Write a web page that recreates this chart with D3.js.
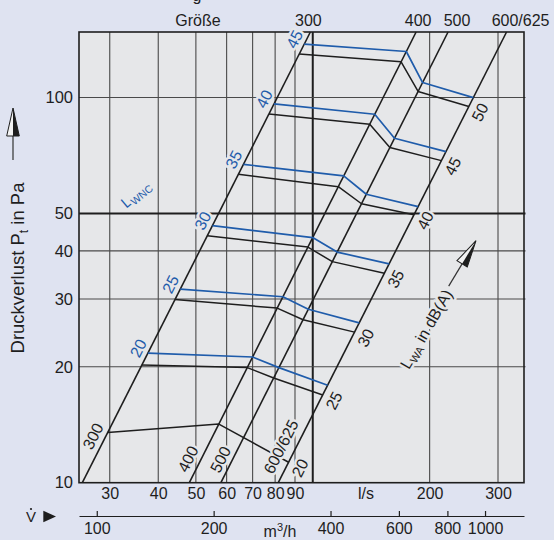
<!DOCTYPE html>
<html>
<head>
<meta charset="utf-8">
<script src="https://cdnjs.cloudflare.com/ajax/libs/d3/7.8.5/d3.min.js"></script>
<style>
  body { margin: 0; background: #dfe3f1; }
  svg { display: block; font-family: "Liberation Sans", Arial, Helvetica, sans-serif; }
</style>
</head>
<body>
<svg id="chart" width="554" height="540"></svg>
<script>
// size lines (Größe): flow in l/s where each line meets 10 Pa and the top edge (148 Pa)
var sizes = ["300", "400", "500", "600/625"];
var sizeFlowLow = [25.5, 48.1, 58.0, 81.5];
var sizeFlowHigh = [98.6, 184.6, 223.1, 315.6];
var pLow = 10, pHigh = 148;

// black lines, L_WA in dB(A): pressure in Pa where the line crosses size 300 / 400 / 500 / 600
var lwaLevels = [20, 25, 30, 35, 40, 45, 50];
var lwaPressure = [
  [13.5, 14.2, null, 11.3],
  [20.2, 19.9, 18.7, 16.9],
  [29.9, 28.4, 26.5, 24.6],
  [43.8, 40.9, 37.5, 35.0],
  [63.2, 58.7, 53.0, 49.6],
  [90.7, 85.3, 74.2, 68.6],
  [129.7, 123.8, 103.7, 94.8]
];

// blue lines, L_WNC
var lwncLevels = [20, 25, 30, 35, 40, 45];
var lwncPressure = [
  [21.7, 21.2, 19.9, 17.9],
  [31.8, 30.4, 28.2, 26.0],
  [46.5, 43.3, 39.7, 37.0],
  [67.1, 62.6, 56.1, 52.1],
  [96.3, 90.5, 78.4, 72.4],
  [137.6, 131.7, 109.4, 100.0]
];

var gridFlow = [30, 40, 50, 60, 70, 80, 90, 100, 200, 300];
var gridPressure = [20, 30, 40, 50, 100];
var flowTicks = [30, 40, 50, 60, 70, 80, 90, 200, 300];
var pressureTicks = [10, 20, 30, 40, 50, 100];
var m3hTicks = [100, 200, 400, 600, 800, 1000];

var bg = "#e6e7e9", ink = "#1e1e1e", blue = "#1f5cab";
// note: "top" is taken by window.top, so plot edges get their own names
var pL = 79, pR = 524, pT = 32, pB = 482.7;

var svg = d3.select("#chart");

var x = d3.scaleLog().domain([25, 350]).range([pL, pR]);
var y = d3.scaleLog().domain([pLow, pHigh]).range([pB, pT]);
var xm = d3.scaleLog().domain([25 * 3.6, 350 * 3.6]).range([pL, pR]);

svg.append("rect")
  .attr("x", pL).attr("y", pT)
  .attr("width", pR - pL).attr("height", pB - pT)
  .attr("fill", bg);

// grid
svg.append("g").selectAll("line")
  .data(gridFlow).enter().append("line")
  .attr("x1", d => x(d)).attr("x2", d => x(d))
  .attr("y1", pT).attr("y2", pB)
  .attr("stroke", d => d == 100 ? ink : "#4a4a4a")
  .attr("stroke-width", d => d == 100 ? 2 : 1.1);

svg.append("g").selectAll("line")
  .data(gridPressure).enter().append("line")
  .attr("x1", pL).attr("x2", pR + 1.5)
  .attr("y1", d => y(d)).attr("y2", d => y(d))
  .attr("stroke", d => d == 50 ? ink : "#4a4a4a")
  .attr("stroke-width", d => d == 50 ? 2 : 1.1);

svg.append("rect")
  .attr("x", pL).attr("y", pT)
  .attr("width", pR - pL).attr("height", pB - pT)
  .attr("fill", "none").attr("stroke", ink).attr("stroke-width", 1.6);

// axes
var yAxis = svg.append("g")
  .attr("transform", `translate(${pL},0)`)
  .call(d3.axisLeft(y).tickValues(pressureTicks).tickSize(0).tickPadding(6).tickFormat(d3.format("d")));
yAxis.select(".domain").remove();
yAxis.selectAll("text").attr("font-size", 16.5).attr("font-family", null).attr("fill", ink);

var xAxis = svg.append("g")
  .attr("transform", `translate(0,${pB})`)
  .call(d3.axisBottom(x).tickValues(flowTicks).tickSize(0).tickPadding(5).tickFormat(d3.format("d")));
xAxis.select(".domain").remove();
xAxis.selectAll("text").attr("font-size", 16).attr("font-family", null).attr("fill", ink);

var mAxis = svg.append("g")
  .attr("transform", "translate(0,516)")
  .call(d3.axisBottom(xm).tickValues(m3hTicks).tickSizeInner(-5).tickSizeOuter(0).tickPadding(7).tickFormat(d3.format("d")));
mAxis.select(".domain").attr("stroke", ink).attr("stroke-width", 1.2);
mAxis.selectAll(".tick line").attr("stroke", ink).attr("stroke-width", 1.2);
mAxis.selectAll("text").attr("font-size", 16).attr("font-family", null).attr("fill", ink);

svg.append("text").attr("x", 366).attr("y", 499).attr("text-anchor", "middle")
  .attr("font-size", 16).attr("fill", ink).text("l/s");
var mt = svg.append("text").attr("x", 280).attr("y", 537).attr("text-anchor", "middle")
  .attr("font-size", 16).attr("fill", ink);
mt.append("tspan").text("m");
mt.append("tspan").attr("font-size", 11).attr("dy", -6).text("3");
mt.append("tspan").attr("dy", 6).text("/h");

// V-dot and triangle
svg.append("text").attr("x", 31).attr("y", 522).attr("text-anchor", "middle")
  .attr("font-size", 15).attr("fill", ink).text("V");
svg.append("circle").attr("cx", 31).attr("cy", 509).attr("r", 1.1).attr("fill", ink);
svg.append("path").attr("d", "M43.3,510.7L56,516.5L43.3,522.3Z").attr("fill", ink);

// y title and arrow
var yt = svg.append("text")
  .attr("transform", "translate(24,268) rotate(-90)")
  .attr("text-anchor", "middle").attr("font-size", 18.5).attr("fill", ink);
yt.append("tspan").text("Druckverlust P");
yt.append("tspan").attr("font-size", 12).attr("dy", 4).text("t");
yt.append("tspan").attr("dy", -4).text(" in Pa");

function arrow(tx, ty, rot, len, w, shaft) {
  var g = svg.append("g").attr("transform", `translate(${tx},${ty}) rotate(${rot})`);
  g.append("line").attr("x1", 0).attr("x2", 0).attr("y1", len).attr("y2", len + shaft)
    .attr("stroke", "#333").attr("stroke-width", 1.2);
  g.append("path").attr("d", `M0,0L${-w},${len}L${w},${len}Z`)
    .attr("fill", "#f2f2f2").attr("stroke", ink).attr("stroke-width", 1);
  g.append("path").attr("d", `M0,0L0,${len}L${w},${len}Z`).attr("fill", ink);
}
arrow(13, 108, 0, 28, 6.3, 24);

// top labels
svg.append("text").attr("x", 198).attr("y", 25.5).attr("text-anchor", "middle")
  .attr("font-size", 16).attr("fill", ink).text("Größe");
svg.append("text").attr("x", 197).attr("y", 1).attr("text-anchor", "middle")
  .attr("font-size", 16).attr("fill", ink).text("g");

var topDx = [-2, 2, 9, 14];
svg.append("g").selectAll("text")
  .data(sizes).enter().append("text")
  .attr("x", (d, i) => x(sizeFlowHigh[i]) + topDx[i]).attr("y", 25.5)
  .attr("text-anchor", "middle").attr("font-size", 16).attr("fill", ink)
  .text(d => d);

// flow on size line i at pressure p (straight line in log-log)
function flowOn(i, p) {
  var t = Math.log(p / pLow) / Math.log(pHigh / pLow);
  return Math.exp(Math.log(sizeFlowLow[i]) + t * Math.log(sizeFlowHigh[i] / sizeFlowLow[i]));
}

var line = d3.line().x(d => x(d[0])).y(d => y(d[1]));
var plot = svg.append("g");

plot.selectAll(".size")
  .data(sizes).enter().append("path")
  .attr("d", (d, i) => line([[sizeFlowLow[i], pLow], [sizeFlowHigh[i], pHigh]]))
  .attr("fill", "none").attr("stroke", ink).attr("stroke-width", 1.6);

function isoPoints(ps) {
  return ps.map((p, i) => p == null ? null : [flowOn(i, p), p]).filter(d => d);
}

plot.selectAll(".lwa")
  .data(lwaPressure).enter().append("path")
  .attr("d", d => line(isoPoints(d)))
  .attr("fill", "none").attr("stroke", ink).attr("stroke-width", 1.5)
  .attr("stroke-linejoin", "round");

plot.selectAll(".lwnc")
  .data(lwncPressure).enter().append("path")
  .attr("d", d => line(isoPoints(d)))
  .attr("fill", "none").attr("stroke", blue).attr("stroke-width", 1.7)
  .attr("stroke-linejoin", "round");

// direction of the size lines on screen
var dxs = x(sizeFlowHigh[0]) - x(sizeFlowLow[0]), dys = y(pHigh) - y(pLow);
var len = Math.sqrt(dxs * dxs + dys * dys);
var ux = dxs / len, uy = dys / len;
var nx = -uy, ny = ux;
var ang = Math.atan2(dys, dxs) * 180 / Math.PI;

var labels = svg.append("g").attr("font-size", 16)
  .attr("stroke", bg).attr("stroke-width", 5).attr("stroke-linejoin", "round")
  .attr("paint-order", "stroke");

function tag(px, py, off, txt, col) {
  labels.append("text")
    .attr("transform", `translate(${px + nx * off},${py + ny * off}) rotate(${ang})`)
    .attr("text-anchor", "middle").attr("dy", "0.36em")
    .attr("fill", col).text(txt);
}

lwaPressure.forEach(function(ps, k) {
  var p = ps[3];
  tag(x(flowOn(3, p)), y(p), 12.5, lwaLevels[k], ink);
});
lwncPressure.forEach(function(ps, k) {
  var p = ps[0];
  tag(x(flowOn(0, p)), y(p), -11, lwncLevels[k], blue);
});

// size names near the bottom
var sizeTagP = [12.8, 11.16, 11.16, 11.95];
var sizeTagOff = [-11.5, -12, -11, -14];
sizes.forEach(function(s, i) {
  var p = sizeTagP[i];
  tag(x(flowOn(i, p)), y(p), sizeTagOff[i], s, ink);
});

// L_WNC
var wnc = labels.append("text")
  .attr("transform", "translate(139,198) rotate(-40)")
  .attr("text-anchor", "middle").attr("fill", blue).attr("font-size", 15);
wnc.append("tspan").text("L");
wnc.append("tspan").attr("font-size", 10.5).attr("dy", 3).text("WNC");

// L_WA in dB(A) with arrow
var wa = labels.append("text")
  .attr("transform", "translate(431,332) rotate(-60)")
  .attr("text-anchor", "middle").attr("fill", ink);
wa.append("tspan").text("L");
wa.append("tspan").attr("font-size", 11).attr("dy", 3).text("WA");
wa.append("tspan").attr("dy", -3).text(" in dB(A)");

arrow(476, 240.7, 31, 27, 6, 26);
</script>
</body>
</html>
